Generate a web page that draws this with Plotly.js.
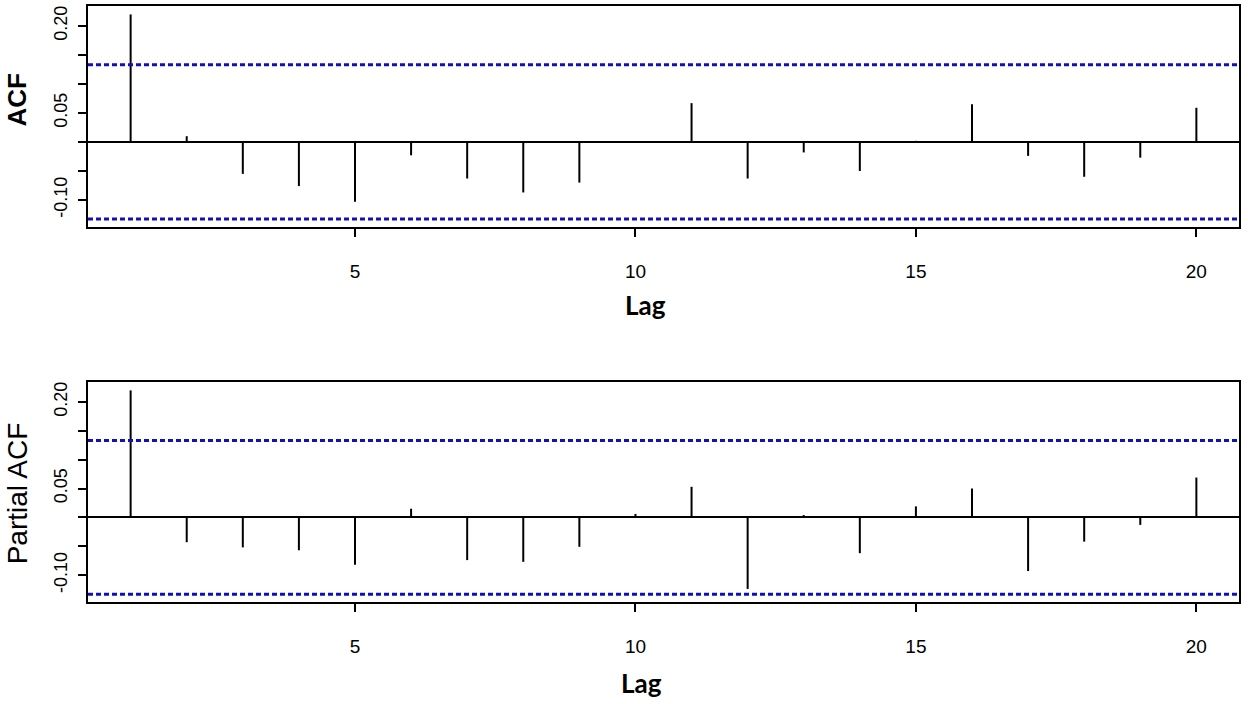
<!DOCTYPE html>
<html>
<head>
<meta charset="utf-8">
<script src="https://cdn.plot.ly/plotly-3.0.1.min.js"></script>
<style>html,body{margin:0;padding:0;background:#fff;}#chart{width:1248px;height:704px;}</style>
</head>
<body>
<div id="chart"></div>
<script>
// ---- data ----
const lags = [1,2,3,4,5,6,7,8,9,10,11,12,13,14,15,16,17,18,19,20];
const acfValues = [0.220, 0.010, -0.055, -0.076, -0.103, -0.023, -0.063, -0.087, -0.070, 0.000,
                   0.067, -0.063, -0.018, -0.050, 0.002, 0.065, -0.024, -0.060, -0.027, 0.059];
const pacfValues = [0.220, -0.043, -0.052, -0.057, -0.082, 0.015, -0.074, -0.077, -0.051, 0.006,
                    0.053, -0.124, 0.004, -0.062, 0.019, 0.050, -0.093, -0.042, -0.013, 0.069];
const ciBounds = [0.133, -0.133];
const xTickVals = [5, 10, 15, 20];
const xTickText = ['5', '10', '15', '20'];
const yTickVals = [-0.10, -0.05, 0.00, 0.05, 0.10, 0.15, 0.20];
const yTickText = ['-0.10', '', '', '0.05', '', '', '0.20'];
const panelTitles = ['ACF', 'Partial ACF'];
const xTitle = 'Lag';

// ---- build spike traces ----
function spikes(vals, xa, ya) {
  const x = [], y = [];
  lags.forEach((l, i) => { x.push(l, l, null); y.push(0, vals[i], null); });
  return {x, y, xaxis: xa, yaxis: ya, type: 'scatter', mode: 'lines',
          line: {color: '#000', width: 2}, hoverinfo: 'skip', showlegend: false};
}
const data = [spikes(acfValues, 'x', 'y'), spikes(pacfValues, 'x2', 'y2')];

const tickFontX = {family: '"Liberation Sans Narrow", "Liberation Sans", Arial, sans-serif', size: 19, color: '#000'};
const tickFontY = {family: '"Liberation Sans", Arial, sans-serif', size: 18, color: '#000'};

function xAxis(anchor) {
  return {anchor, domain: [0, 1], range: [0.24, 20.76], tickvals: xTickVals, ticktext: xTickText,
    showline: true, mirror: true, linecolor: '#000', linewidth: 2, ticks: 'outside', ticklen: 8,
    tickwidth: 2, tickcolor: '#000', showgrid: false, zeroline: false, tickfont: tickFontX,
    ticklabelstandoff: 18, fixedrange: true};
}
function yAxis(anchor, domain) {
  return {anchor, domain, range: [-0.1466, 0.2345], tickvals: yTickVals, ticktext: yTickText,
    tickangle: -90, showline: true, mirror: true, linecolor: '#000', linewidth: 2, ticks: 'outside',
    ticklen: 8, tickwidth: 2, tickcolor: '#000', showgrid: false, zeroline: true, zerolinecolor: '#000',
    zerolinewidth: 2, tickfont: tickFontY, ticklabelstandoff: 4, fixedrange: true};
}

const shapes = [];
[['y', 'x'], ['y2', 'x2']].forEach(([ya, xa]) => {
  ciBounds.forEach(b => shapes.push({type: 'line', xref: xa + ' domain', yref: ya, x0: 0, x1: 1, y0: b, y1: b,
    line: {color: '#1010b8', width: 3, dash: '5px,3px'}}));
});

const annotations = [
  {text: '<b>' + panelTitles[0] + '</b>', xref: 'paper', yref: 'paper', x: -0.0613, y: 0.8423, textangle: -90,
   showarrow: false, xanchor: 'center', yanchor: 'middle',
   font: {family: '"Liberation Sans", Arial, sans-serif', size: 26, color: '#000'}},
  {text: panelTitles[1], xref: 'paper', yref: 'paper', x: -0.0605, y: 0.1829, textangle: -90,
   showarrow: false, xanchor: 'center', yanchor: 'middle',
   font: {family: '"Liberation Sans", Arial, sans-serif', size: 28, color: '#000'}},
  {text: '<b>' + xTitle + '</b>', xref: 'paper', yref: 'paper', x: 0.484, y: 0.4983,
   showarrow: false, xanchor: 'center', yanchor: 'middle',
   font: {family: 'Lato, "Open Sans", sans-serif', size: 26, color: '#000'}},
  {text: '<b>' + xTitle + '</b>', xref: 'paper', yref: 'paper', x: 0.481, y: -0.1359,
   showarrow: false, xanchor: 'center', yanchor: 'middle',
   font: {family: 'Lato, "Open Sans", sans-serif', size: 26, color: '#000'}}
];

const layout = {
  width: 1248, height: 704,
  margin: {l: 88, r: 9, t: 6, b: 102},
  paper_bgcolor: '#fff', plot_bgcolor: '#fff',
  xaxis: xAxis('y'), yaxis: yAxis('x', [0.6292, 1]),
  xaxis2: xAxis('y2'), yaxis2: yAxis('x2', [0, 0.3691]),
  shapes, annotations, showlegend: false
};
Plotly.newPlot('chart', data, layout, {displayModeBar: false, staticPlot: true});
</script>
</body>
</html>
